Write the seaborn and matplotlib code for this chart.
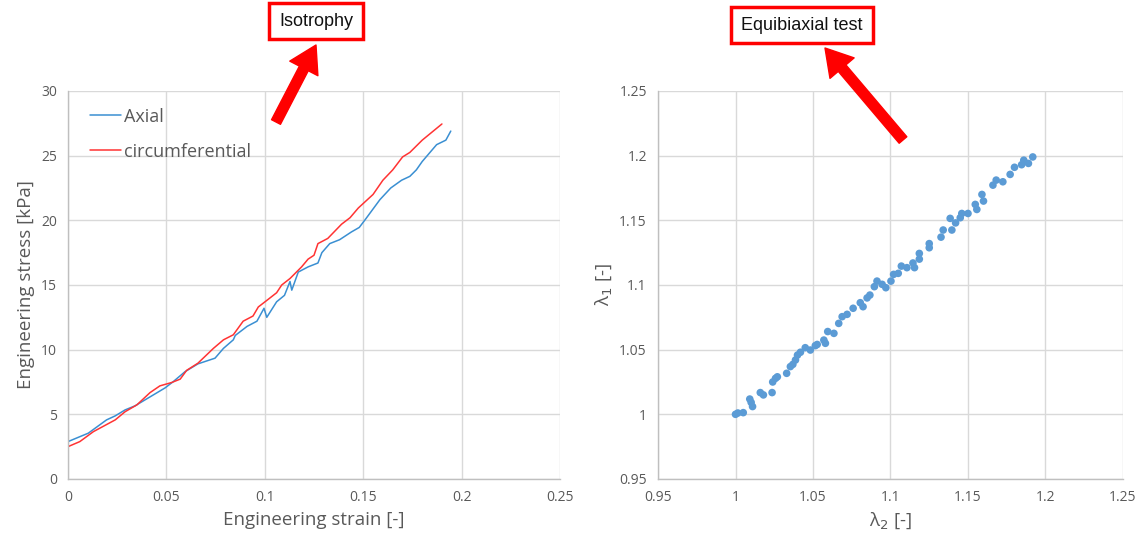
import matplotlib
matplotlib.use("Agg")
import matplotlib.pyplot as plt
import seaborn as sns
import pandas as pd

# Left panel: stress-strain curves
axial_strain = [0.0, 0.006, 0.0103, 0.0196, 0.024, 0.029, 0.034, 0.0493, 0.0535, 0.0595,
                0.066, 0.0747, 0.079, 0.084, 0.085, 0.091, 0.096, 0.0996, 0.101, 0.106,
                0.110, 0.1128, 0.1137, 0.117, 0.122, 0.127, 0.129, 0.133, 0.138, 0.144,
                0.148, 0.151, 0.1585, 0.164, 0.1695, 0.1737, 0.177, 0.180, 0.1873, 0.192,
                0.1945]
axial_stress = [2.89, 3.27, 3.54, 4.57, 4.88, 5.34, 5.65, 7.04, 7.53, 8.3,
                8.9, 9.34, 10.1, 10.76, 11.1, 11.8, 12.2, 13.2, 12.5, 13.7,
                14.2, 15.27, 14.6, 16.0, 16.4, 16.7, 17.5, 18.2, 18.5, 19.1,
                19.45, 20.05, 21.6, 22.5, 23.1, 23.4, 23.9, 24.55, 25.85, 26.2,
                26.9]
circ_strain = [0.0, 0.006, 0.0129, 0.024, 0.029, 0.035, 0.0417, 0.0467, 0.0527, 0.057,
               0.0603, 0.066, 0.0739, 0.079, 0.084, 0.089, 0.094, 0.0967, 0.1018, 0.106,
               0.1086, 0.1128, 0.1187, 0.122, 0.125, 0.127, 0.132, 0.139, 0.1433, 0.1475,
               0.155, 0.160, 0.165, 0.170, 0.1737, 0.180, 0.1856, 0.190]
circ_stress = [2.5, 2.89, 3.66, 4.57, 5.2, 5.73, 6.68, 7.2, 7.46, 7.72,
               8.4, 8.95, 10.1, 10.76, 11.15, 12.2, 12.6, 13.3, 13.9, 14.4,
               15.0, 15.5, 16.4, 17.0, 17.3, 18.2, 18.6, 19.7, 20.2, 20.95,
               22.0, 23.1, 23.9, 24.9, 25.25, 26.2, 26.9, 27.45]

# Right panel: equibiaxial stretches
lambda2 = [1.0, 1.0015, 1.005, 1.0092, 1.0101, 1.011, 1.016, 1.018, 1.0236, 1.024,
           1.0258, 1.027, 1.033, 1.0354, 1.037, 1.0387, 1.040, 1.0419, 1.045, 1.0483,
           1.0515, 1.0527, 1.057, 1.058, 1.0595, 1.0635, 1.0666, 1.0688, 1.072, 1.0759,
           1.0805, 1.0823, 1.0849, 1.0867, 1.0896, 1.0913, 1.0946, 1.097, 1.1003, 1.102,
           1.105, 1.107, 1.1106, 1.1145, 1.1155, 1.1186, 1.1186, 1.125, 1.125, 1.1326,
           1.134, 1.1385, 1.1396, 1.142, 1.145, 1.146, 1.150, 1.1547, 1.1557, 1.159,
           1.160, 1.1661, 1.1682, 1.1725, 1.1772, 1.180, 1.1846, 1.186, 1.189, 1.1918]
lambda1 = [1.0, 1.001, 1.0013, 1.0118, 1.0092, 1.006, 1.0168, 1.015, 1.0168, 1.025,
           1.0278, 1.029, 1.0317, 1.0369, 1.0386, 1.042, 1.0458, 1.048, 1.0515, 1.0497,
           1.0531, 1.054, 1.0574, 1.0549, 1.064, 1.0626, 1.0703, 1.0755, 1.0773, 1.082,
           1.0863, 1.0832, 1.090, 1.0922, 1.0987, 1.103, 1.1005, 1.0979, 1.103, 1.1082,
           1.109, 1.1146, 1.1134, 1.117, 1.1134, 1.1244, 1.120, 1.132, 1.1288, 1.137,
           1.1425, 1.1515, 1.1425, 1.148, 1.152, 1.1553, 1.1553, 1.1623, 1.1584, 1.170,
           1.1649, 1.1772, 1.1811, 1.1798, 1.1855, 1.191, 1.193, 1.1965, 1.194, 1.199]

sns.set_theme(style="whitegrid")
plt.rcParams['font.family'] = ['Open Sans', 'DejaVu Sans']

grey = '#595959'
fig = plt.figure(figsize=(11.41, 5.40), dpi=100)
ax1 = fig.add_axes([0.0596, 0.113, 0.4312, 0.7185])
ax2 = fig.add_axes([0.5767, 0.113, 0.4075, 0.7185])

df_ax = pd.DataFrame({'strain': axial_strain, 'stress': axial_stress})
df_ci = pd.DataFrame({'strain': circ_strain, 'stress': circ_stress})
sns.lineplot(data=df_ax, x='strain', y='stress', ax=ax1, color='#3a8fd2', lw=1.1,
             sort=False, label='Axial')
sns.lineplot(data=df_ci, x='strain', y='stress', ax=ax1, color='#ff3333', lw=1.1,
             sort=False, label='circumferential')

sns.scatterplot(x=lambda2, y=lambda1, ax=ax2, color='#5b9bd5', s=30, edgecolor='none')

ax1.set_xlim(0, 0.25)
ax1.set_ylim(0, 30)
ax1.set_xticks([0, 0.05, 0.1, 0.15, 0.2, 0.25])
ax1.set_xticklabels(['0', '0.05', '0.1', '0.15', '0.2', '0.25'])
ax1.set_yticks(range(0, 31, 5))
ax1.set_xlabel('Engineering strain [-]', fontsize=13.5, color=grey)
ax1.set_ylabel('Engineering stress [kPa]', fontsize=13.5, color=grey)

ax2.set_xlim(0.95, 1.25)
ax2.set_ylim(0.95, 1.25)
ticks = [0.95, 1.0, 1.05, 1.1, 1.15, 1.2, 1.25]
tick_lbls = ['0.95', '1', '1.05', '1.1', '1.15', '1.2', '1.25']
ax2.set_xticks(ticks)
ax2.set_xticklabels(tick_lbls)
ax2.set_yticks(ticks)
ax2.set_yticklabels(tick_lbls)
ax2.set_xlabel('λ$_2$ [-]', fontsize=13.5, color=grey)
ax2.set_ylabel('λ$_1$ [-]', fontsize=13.5, color=grey)

for ax in (ax1, ax2):
    ax.set_facecolor('white')
    ax.grid(True, color='#d9d9d9', lw=1)
    ax.tick_params(axis='both', labelsize=10, colors=grey, length=0, pad=8)
    for side in ('top', 'right'):
        ax.spines[side].set_visible(False)
    for side in ('left', 'bottom'):
        ax.spines[side].set_color('#bfbfbf')
        ax.spines[side].set_linewidth(1)

leg = ax1.legend(loc='upper left', frameon=False, fontsize=13, handlelength=1.7,
                 handletextpad=0.15, labelspacing=0.95, borderaxespad=0.3,
                 bbox_to_anchor=(0.02, 0.99))
for t in leg.get_texts():
    t.set_color(grey)

# callout boxes with arrows
box = dict(boxstyle='square,pad=0.55', fc='white', ec='#ff0000', lw=2.5)
fig.text(316 / 1141, 1 - 21 / 540, 'Isotrophy', ha='center', va='center',
         fontsize=13, color='#111111', family=['Liberation Sans', 'DejaVu Sans'], bbox=box)
fig.text(802 / 1141, 1 - 25 / 540, 'Equibiaxial test', ha='center', va='center',
         fontsize=13, color='#111111', family=['Liberation Sans', 'DejaVu Sans'], bbox=box)

arrow = dict(arrowstyle='simple,head_width=1.2,head_length=1.0,tail_width=0.38',
             color='#ff0000', mutation_scale=19, shrinkA=0, shrinkB=0)
fig.add_artist(plt.Annotation('', xy=(316 / 1141, 1 - 45 / 540), xycoords='figure fraction',
                              xytext=(276 / 1141, 1 - 122 / 540), textcoords='figure fraction',
                              arrowprops=arrow))
fig.add_artist(plt.Annotation('', xy=(825 / 1141, 1 - 48 / 540), xycoords='figure fraction',
                              xytext=(903 / 1141, 1 - 140 / 540), textcoords='figure fraction',
                              arrowprops=arrow))

fig.savefig('out.png', dpi=100)
